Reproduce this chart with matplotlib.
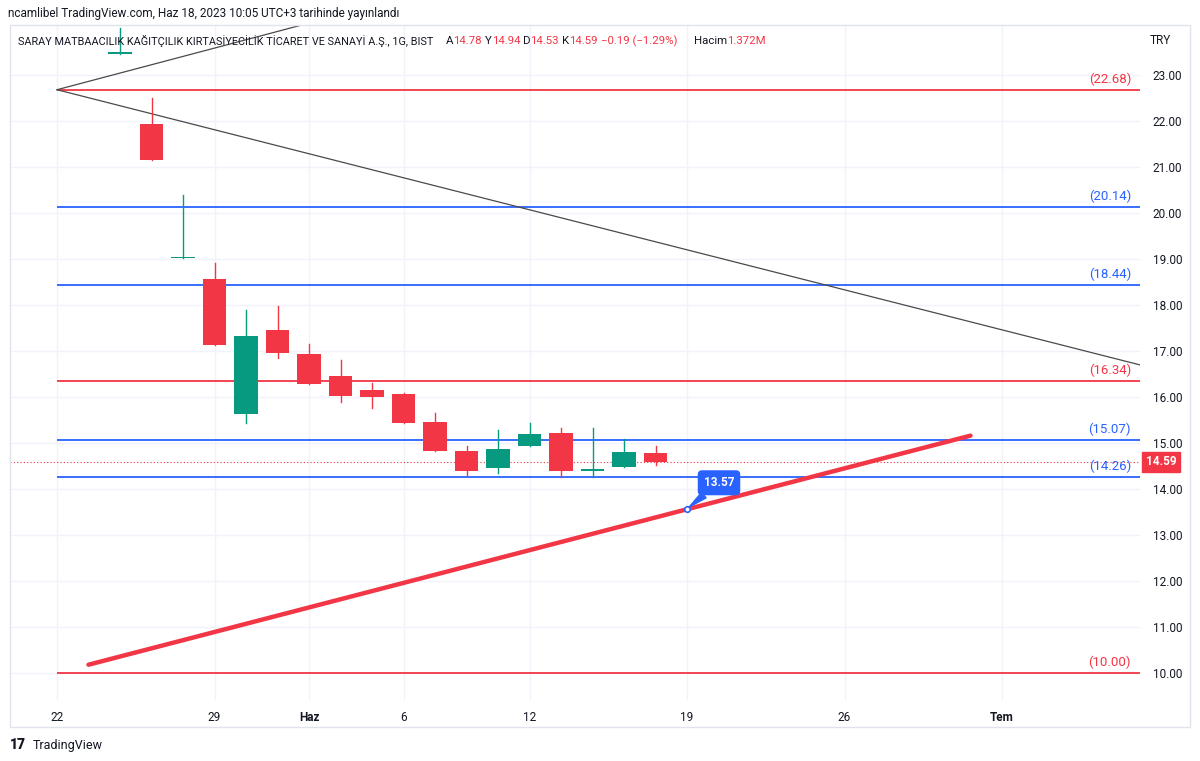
import numpy as np
import matplotlib
matplotlib.use("Agg")
import matplotlib.pyplot as plt
from matplotlib.patches import Rectangle

# ==== data ====
dates = ["2023-05-24", "2023-05-25", "2023-05-26", "2023-05-29", "2023-05-30",
         "2023-05-31", "2023-06-01", "2023-06-02", "2023-06-05", "2023-06-06",
         "2023-06-07", "2023-06-08", "2023-06-09", "2023-06-12", "2023-06-13",
         "2023-06-14", "2023-06-15", "2023-06-16"]
opens  = [23.46, 21.93, 19.02, 18.57, 15.62, 17.45, 16.93, 16.46, 16.16, 16.06,
          15.45, 14.83, 14.45, 14.93, 15.22, 14.40, 14.47, 14.78]
highs  = [24.02, 22.50, 20.39, 18.91, 17.89, 17.98, 17.15, 16.81, 16.31, 16.08,
          15.65, 14.93, 15.28, 15.44, 15.32, 15.32, 15.08, 14.94]
lows   = [23.46, 21.15, 19.02, 17.13, 15.43, 16.85, 16.28, 15.89, 15.77, 15.44,
          14.83, 14.31, 14.35, 14.93, 14.27, 14.27, 14.47, 14.53]
closes = [23.46, 21.15, 19.02, 17.13, 17.32, 16.96, 16.28, 16.03, 16.00, 15.44,
          14.83, 14.39, 14.86, 15.19, 14.39, 14.41, 14.80, 14.59]

level_values = [22.68, 20.14, 18.44, 16.34, 15.07, 14.26, 10.00]
level_kinds  = ["red", "blue", "blue", "red", "blue", "blue", "red"]
level_start  = "2023-05-22"

fan_origin = ("2023-05-22", 22.68)
fan_ends   = [("2023-07-10", 22.68 + 0.181 * 35), ("2023-07-10", 22.68 - 0.174 * 35)]

trend_pts   = [("2023-05-23", 10.18), ("2023-06-30", 15.16)]
trend_label = ("2023-06-19", 13.57)

last_price = 14.59

tick_dates  = ["2023-05-22", "2023-05-29", "2023-06-01", "2023-06-06",
               "2023-06-12", "2023-06-19", "2023-06-26", "2023-07-03"]
tick_labels = ["22", "29", "Haz", "6", "12", "19", "26", "Tem"]
price_ticks = list(range(10, 24))

header = "ncamlibel TradingView.com, Haz 18, 2023 10:05 UTC+3 tarihinde yayınlandı"
title = "SARAY MATBAACILIK KAĞITÇILIK KIRTASİYECİLİK TİCARET VE SANAYİ A.Ş., 1G, BIST"
ohlc_parts = [("A", "14.78"), ("Y", "14.94"), ("D", "14.53"), ("K", "14.59")]
change_txt = "−0.19 (−1.29%)"
volume_txt = ("Hacim", "1.372M")

# ==== styles ====
RED = "#f23645"
GREEN = "#089981"
BLUE = "#2962ff"
TXT = "#131722"
GRID = "#f0f3fa"
plt.rcParams["font.family"] = ["Roboto", "DejaVu Sans"]

base = np.datetime64("2023-05-22")
def tidx(d):
    return np.busday_count(base, np.datetime64(d))

W, H = 1200, 761
fig = plt.figure(figsize=(12, 7.61), dpi=100)
fx = lambda px: px / W
fy = lambda py: 1 - py / H

# pane: x 10..1140, y 25..700 (pixels)
ax = fig.add_axes([fx(10), fy(700), (1140 - 10) / W, (700 - 25) / H])
ax.set_xlim((10 - 57) / 31.5, (1140 - 57) / 31.5)
ax.set_ylim(23 - (700 - 75) / 46, 23 + (75 - 25) / 46)
for s in ax.spines.values():
    s.set_visible(False)

# grid
for v in price_ticks:
    ax.axhline(v, color=GRID, lw=1, zorder=0)
for d in tick_dates:
    ax.axvline(tidx(d), color=GRID, lw=1, zorder=0)

# horizontal levels
x0 = tidx(level_start)
xr = ax.get_xlim()[1]
for v, k in zip(level_values, level_kinds):
    c = RED if k == "red" else BLUE
    ax.plot([x0, xr], [v, v], color=c, lw=1.3, zorder=2, solid_capstyle="butt")
    ax.annotate(f"({v:.2f})", xy=(1, v), xycoords=("axes fraction", "data"),
                xytext=(-9, 4), textcoords="offset pixels", ha="right", va="bottom",
                color=c, fontsize=9.5)

# fan lines
for d, v in fan_ends:
    ax.plot([tidx(fan_origin[0]), tidx(d)], [fan_origin[1], v], color="#4a4a4a", lw=0.9, zorder=2)

# last price dotted line
ax.axhline(last_price, color=RED, lw=0.8, ls=(0, (1, 2)), zorder=1)

# candles
xs = np.array([tidx(d) for d in dates])
for x, o, h, l, c in zip(xs, opens, highs, lows, closes):
    col = GREEN if c >= o else RED
    ax.plot([x, x], [l, h], color=col, lw=1, zorder=3)
    bot = min(o, c)
    hgt = max(abs(c - o), 0.03)
    ax.bar(x, hgt, bottom=bot, width=0.74, color=col, lw=0, zorder=4)

# trend line
ax.plot([tidx(d) for d, _ in trend_pts], [v for _, v in trend_pts], color=RED, lw=3.2,
        solid_capstyle="round", zorder=5)
lx, lv = tidx(trend_label[0]), trend_label[1]
ax.plot(lx, lv, "o", ms=4, mfc="white", mec=BLUE, mew=1.2, zorder=7)
ax.annotate(f"{lv:.2f}", xy=(lx, lv), xytext=(32, 26), textcoords="offset pixels",
            ha="center", va="center", color="white", fontsize=8.5, fontweight="bold",
            bbox=dict(boxstyle="round,pad=0.45,rounding_size=0.3", fc=BLUE, ec=BLUE),
            arrowprops=dict(arrowstyle="wedge,tail_width=0.6", color=BLUE, shrinkA=0, shrinkB=2),
            zorder=8)

# axes ticks
ax.yaxis.tick_right()
ax.set_yticks(price_ticks)
ax.set_yticklabels([f"{v:.2f}" for v in price_ticks])
ax.tick_params(axis="y", length=0, pad=9, labelsize=8.5, labelcolor=TXT)
ax.set_xticks([tidx(d) for d in tick_dates])
ax.set_xticklabels(tick_labels)
ax.tick_params(axis="x", length=0, pad=8, labelsize=8.5, labelcolor=TXT)
for t in ax.get_xticklabels():
    if t.get_text() in ("Haz", "Tem"):
        t.set_fontweight("bold")

# price label box
ax.annotate(f"{last_price:.2f}", xy=(1, last_price), xycoords=("axes fraction", "data"),
            xytext=(21, 0), textcoords="offset pixels", ha="center", va="center",
            color="white", fontsize=8.5, fontweight="bold", annotation_clip=False,
            bbox=dict(boxstyle="square,pad=0.3", fc=RED, ec=RED))

fig.text(fx(1150), fy(40), "TRY", fontsize=8.5, color=TXT, va="center")

# outer border
fig.patches.append(Rectangle((fx(10), fy(727)), 1180 / W, 702 / H, transform=fig.transFigure,
                             fill=False, ec="#e0e3eb", lw=1))

# header texts
fig.text(fx(8), fy(13), header, fontsize=8.5, color=TXT, va="center")
fig.text(fx(18), fy(41), title, fontsize=7.85, color=TXT, va="center")
part_x = [446, 485, 523, 562]
for px, (k, v) in zip(part_x, ohlc_parts):
    fig.text(fx(px), fy(41), k, fontsize=8.2, color=TXT, va="center")
    fig.text(fx(px + 7), fy(41), v, fontsize=8.2, color=RED, va="center")
fig.text(fx(601), fy(41), change_txt, fontsize=8.2, color=RED, va="center")
fig.text(fx(694), fy(41), volume_txt[0], fontsize=8.2, color=TXT, va="center")
fig.text(fx(727), fy(41), volume_txt[1], fontsize=8.2, color=RED, va="center")

# footer logo
fig.text(fx(10), fy(745), "17", fontsize=10, fontweight="black", color=TXT, va="center")
fig.text(fx(33), fy(745), "TradingView", fontsize=9, color=TXT, va="center")

fig.savefig("out.png", dpi=100, facecolor="white")
